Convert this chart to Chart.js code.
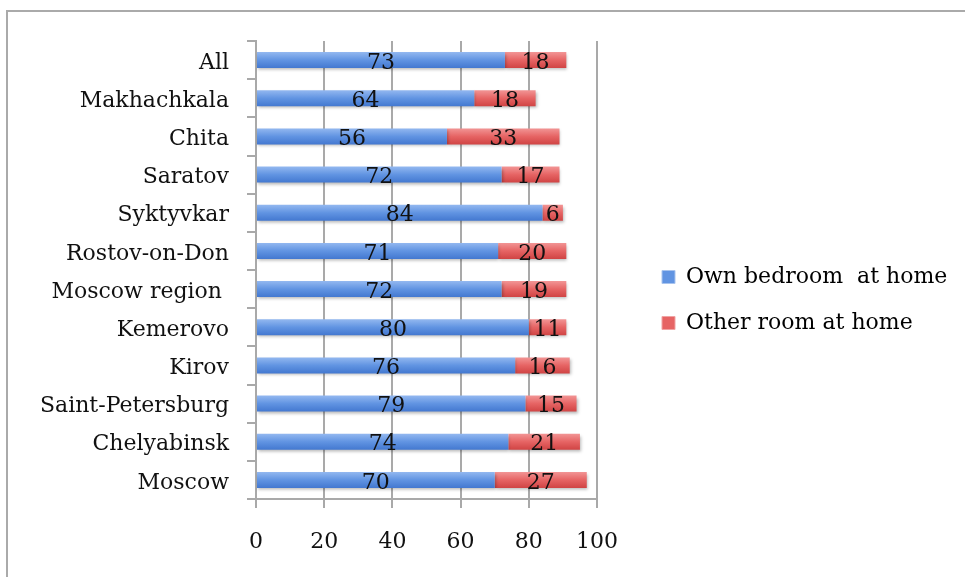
<!DOCTYPE html>
<html>
<head>
<meta charset="utf-8">
<script src="https://cdn.jsdelivr.net/npm/chart.js@4"></script>
<style>
  html, body { margin: 0; padding: 0; background: #fff; }
  #wrap { width: 965px; height: 577px; position: relative; }
</style>
</head>
<body>
<div id="wrap"><canvas id="chart" width="965" height="577"></canvas></div>
<script>
// Stacked horizontal bars: where the child sleeps, by city (percent).
const cities = [
  "All", "Makhachkala", "Chita", "Saratov", "Syktyvkar", "Rostov-on-Don",
  "Moscow region ", "Kemerovo", "Kirov", "Saint-Petersburg", "Chelyabinsk", "Moscow",
];
const ownBedroom = [73, 64, 56, 72, 84, 71, 72, 80, 76, 79, 74, 70];
const otherRoom  = [18, 18, 33, 17, 6, 20, 19, 11, 16, 15, 21, 27];
const seriesNames = ["Own bedroom  at home", "Other room at home"];
const xTicks = [0, 20, 40, 60, 80, 100];

const FONT = "'DejaVu Serif', 'Liberation Serif', serif";
const FSIZE = 22;
const GRID = "#a9a9a9";

// gradient vertical por barra (depende da posicao do elemento)
function barFill(stops) {
  return (c) => {
    const el = c.element;
    if (!el || el.y == null || !el.height) return stops[1];
    const g = c.chart.ctx.createLinearGradient(0, el.y - el.height / 2, 0, el.y + el.height / 2);
    g.addColorStop(0, stops[0]);
    g.addColorStop(0.5, stops[1]);
    g.addColorStop(1, stops[2]);
    return g;
  };
}

// sombra leve sob as barras
const barShadow = {
  id: "barShadow",
  beforeDatasetsDraw(chart) {
    const ctx = chart.ctx;
    ctx.save();
    ctx.shadowColor = "rgba(0,0,0,0.28)";
    ctx.shadowBlur = 3;
    ctx.shadowOffsetX = 1;
    ctx.shadowOffsetY = 2;
  },
  afterDatasetsDraw(chart) { chart.ctx.restore(); },
};

// rotulos centralizados em cada segmento
const valueLabels = {
  id: "valueLabels",
  afterDatasetsDraw(chart) {
    const ctx = chart.ctx;
    ctx.save();
    ctx.font = FSIZE + "px " + FONT;
    ctx.fillStyle = "#111";
    ctx.textAlign = "center";
    ctx.textBaseline = "middle";
    chart.data.datasets.forEach((ds, di) => {
      chart.getDatasetMeta(di).data.forEach((bar, i) => {
        const p = bar.getCenterPoint();
        ctx.fillText(String(ds.data[i]), p.x, p.y + 3);
      });
    });
    ctx.restore();
  },
};

// moldura cinza (so esquerda e topo aparecem)
const frame = {
  id: "frame",
  beforeDraw(chart) {
    const ctx = chart.ctx;
    ctx.save();
    ctx.strokeStyle = "#aaaaaa";
    ctx.lineWidth = 2;
    ctx.beginPath();
    ctx.moveTo(7, chart.height);
    ctx.lineTo(7, 11);
    ctx.lineTo(chart.width, 11);
    ctx.stroke();
    ctx.restore();
  },
};

// legenda: largura fixa e deslocada para a direita/cima
const legendPlace = {
  id: "legendPlace",
  beforeInit(chart) {
    const lg = chart.legend;
    if (!lg) return;
    const fit = lg.fit.bind(lg);
    lg.fit = function () { fit(); this.width = 368; };
  },
  afterLayout(chart) {
    const lg = chart.legend;
    if (!lg) return;
    lg.left += 41; lg.right += 41;
    lg.top -= 9; lg.bottom -= 9;
  },
};

const chart = new Chart(document.getElementById("chart"), {
  type: "bar",
  data: {
    labels: cities,
    datasets: [
      { label: seriesNames[0], data: ownBedroom,
        backgroundColor: barFill(["#93b8f0", "#6194e2", "#4378d0"]),
        barPercentage: 0.42, categoryPercentage: 1 },
      { label: seriesNames[1], data: otherRoom,
        backgroundColor: barFill(["#f29595", "#e66464", "#d04444"]),
        barPercentage: 0.42, categoryPercentage: 1 },
    ],
  },
  options: {
    indexAxis: "y",
    responsive: false,
    animation: false,
    layout: { padding: { top: 41, left: 0, right: 0, bottom: 0 } },
    scales: {
      x: {
        stacked: true, min: 0, max: 100,
        afterBuildTicks: (s) => { s.ticks = xTicks.map(v => ({ value: v })); },
        afterFit: (s) => { s.height = 78; },
        grid: { color: GRID, lineWidth: 2, tickLength: 9, drawTicks: true },
        border: { color: GRID, width: 2 },
        ticks: { color: "#111", font: { family: FONT, size: FSIZE }, padding: 21 },
      },
      y: {
        stacked: true,
        afterFit: (s) => { s.width = 256; },
        grid: { drawOnChartArea: false, color: GRID, lineWidth: 2, tickLength: 9, offset: true },
        border: { color: GRID, width: 2 },
        ticks: { color: "#111", font: { family: FONT, size: FSIZE }, padding: 18, labelOffset: 3 },
      },
    },
    plugins: {
      tooltip: { enabled: false },
      legend: {
        position: "right",
        labels: {
          color: "#111",
          font: { family: FONT, size: FSIZE },
          boxWidth: 13, boxHeight: 13, padding: 24,
          generateLabels: (c) => c.data.datasets.map((ds, i) => ({
            text: ds.label,
            fillStyle: i === 0 ? "#6194e2" : "#e66464",
            strokeStyle: i === 0 ? "#a9c4ee" : "#f0a3a3",
            lineWidth: 1,
            datasetIndex: i,
          })),
        },
      },
    },
  },
  plugins: [barShadow, valueLabels, frame, legendPlace],
});
// segunda passada para os gradientes usarem as posicoes das barras
chart.update("none");
</script>
</body>
</html>
